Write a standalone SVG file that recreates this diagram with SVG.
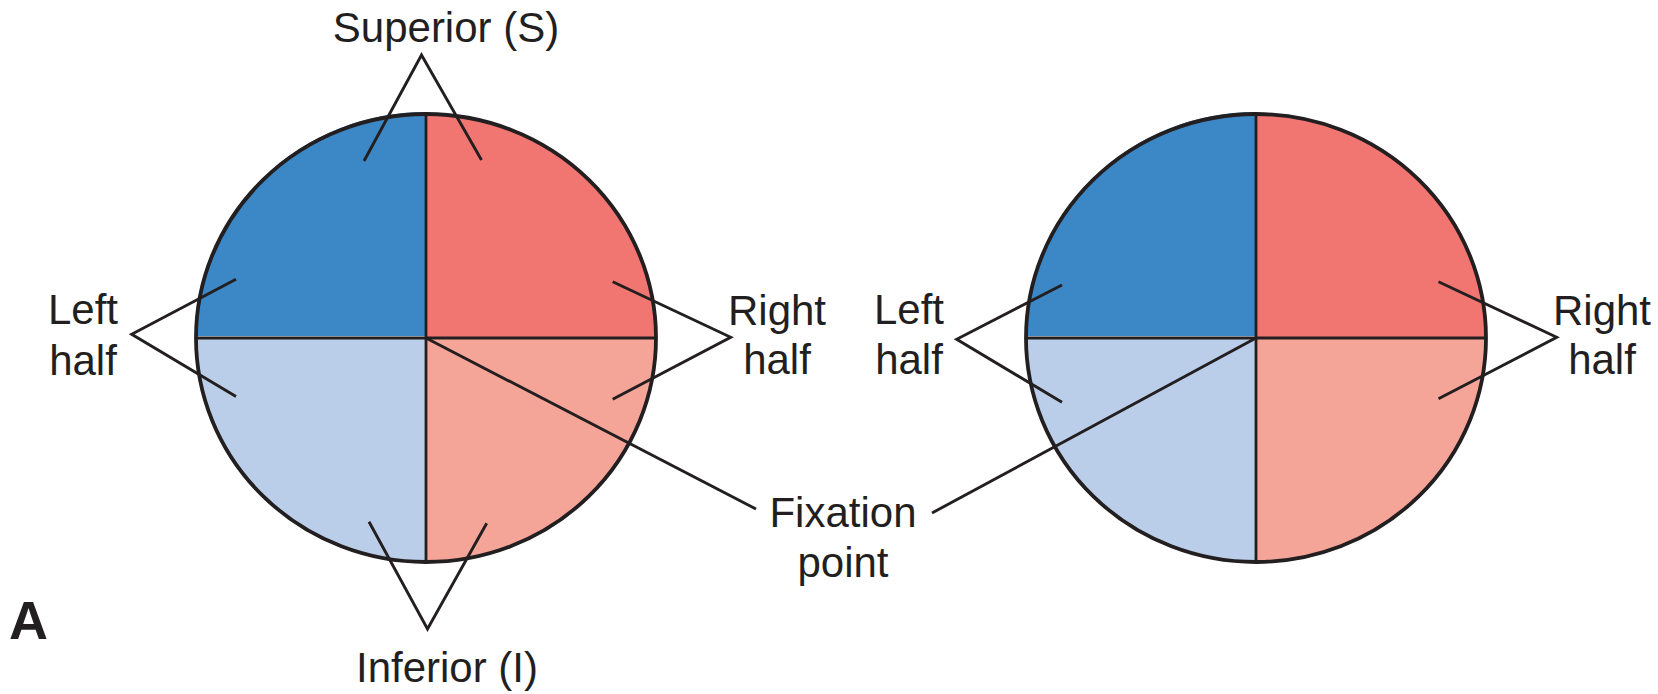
<svg xmlns="http://www.w3.org/2000/svg" width="1658" height="694" viewBox="0 0 1658 694">
<style>
.q1{fill:#3C88C7}
.q2{fill:#F17672}
.q3{fill:#F5A498}
.q4{fill:#BBCEE9}
.div{stroke:#231F20;stroke-width:2.8;fill:none}
.rim{stroke:#231F20;stroke-width:3.8;fill:none}
.lead{stroke:#231F20;stroke-width:2.9;fill:none;stroke-linejoin:miter;stroke-miterlimit:10}
.lbl{font-family:"Liberation Sans",Arial,sans-serif;font-size:42px;fill:#231F20;text-anchor:middle}
.tag{font-family:"Liberation Sans",Arial,sans-serif;font-size:54px;font-weight:bold;fill:#231F20}
</style>
<rect width="1658" height="694" fill="#FFFFFF"/>
<g id="field-left">
<path class="q1" d="M426,336 L196,336 A230,224 0 0 1 426,112 Z"/>
<path class="q2" d="M426,338 L426,114 A230,224 0 0 1 656,338 Z"/>
<path class="q3" d="M426,338 L656,338 A230,224 0 0 1 426,562 Z"/>
<path class="q4" d="M426,338 L426,562 A230,224 0 0 1 196,338 Z"/>
<path class="div" d="M196,338 H656 M426,114 V562"/>
<ellipse class="rim" cx="426" cy="338" rx="230" ry="224"/>
</g>
<g id="field-right">
<path class="q1" d="M1256,336 L1026,336 A230,224 0 0 1 1256,112 Z"/>
<path class="q2" d="M1256,338 L1256,114 A230,224 0 0 1 1486,338 Z"/>
<path class="q3" d="M1256,338 L1486,338 A230,224 0 0 1 1256,562 Z"/>
<path class="q4" d="M1256,338 L1256,562 A230,224 0 0 1 1026,338 Z"/>
<path class="div" d="M1026,338 H1486 M1256,114 V562"/>
<ellipse class="rim" cx="1256" cy="338" rx="230" ry="224"/>
</g>
<g id="connectors">
<polyline class="lead" points="364,161 421.5,55 481.5,160"/>
<polyline class="lead" points="236,279.3 131.7,334.3 236,396.5"/>
<polyline class="lead" points="612.7,281.7 730.7,337.3 612.7,399.3"/>
<polyline class="lead" points="369,521.7 427.5,629 486.7,523.3"/>
<line class="lead" x1="426" y1="338" x2="756" y2="509"/>
<line class="lead" x1="932" y1="513" x2="1256" y2="338"/>
<polyline class="lead" points="1062,285 956.7,339.3 1062,402.3"/>
<polyline class="lead" points="1438.5,281.7 1556.7,337.3 1438.5,398.8"/>
</g>
<g id="label-superior"><text class="lbl" x="446" y="42">Superior (S)</text></g>
<g id="label-inferior"><text class="lbl" x="447" y="682">Inferior (I)</text></g>
<g id="label-left-half-1"><text class="lbl" x="83" y="324">Left</text><text class="lbl" x="83" y="375">half</text></g>
<g id="label-right-half-1"><text class="lbl" x="777" y="325">Right</text><text class="lbl" x="777" y="374">half</text></g>
<g id="label-left-half-2"><text class="lbl" x="909" y="324">Left</text><text class="lbl" x="909" y="374">half</text></g>
<g id="label-right-half-2"><text class="lbl" x="1602" y="325">Right</text><text class="lbl" x="1602" y="374">half</text></g>
<g id="label-fixation"><text class="lbl" x="843" y="527">Fixation</text><text class="lbl" x="843" y="577">point</text></g>
<g id="label-a"><text class="tag" x="9" y="639">A</text></g>
</svg>
